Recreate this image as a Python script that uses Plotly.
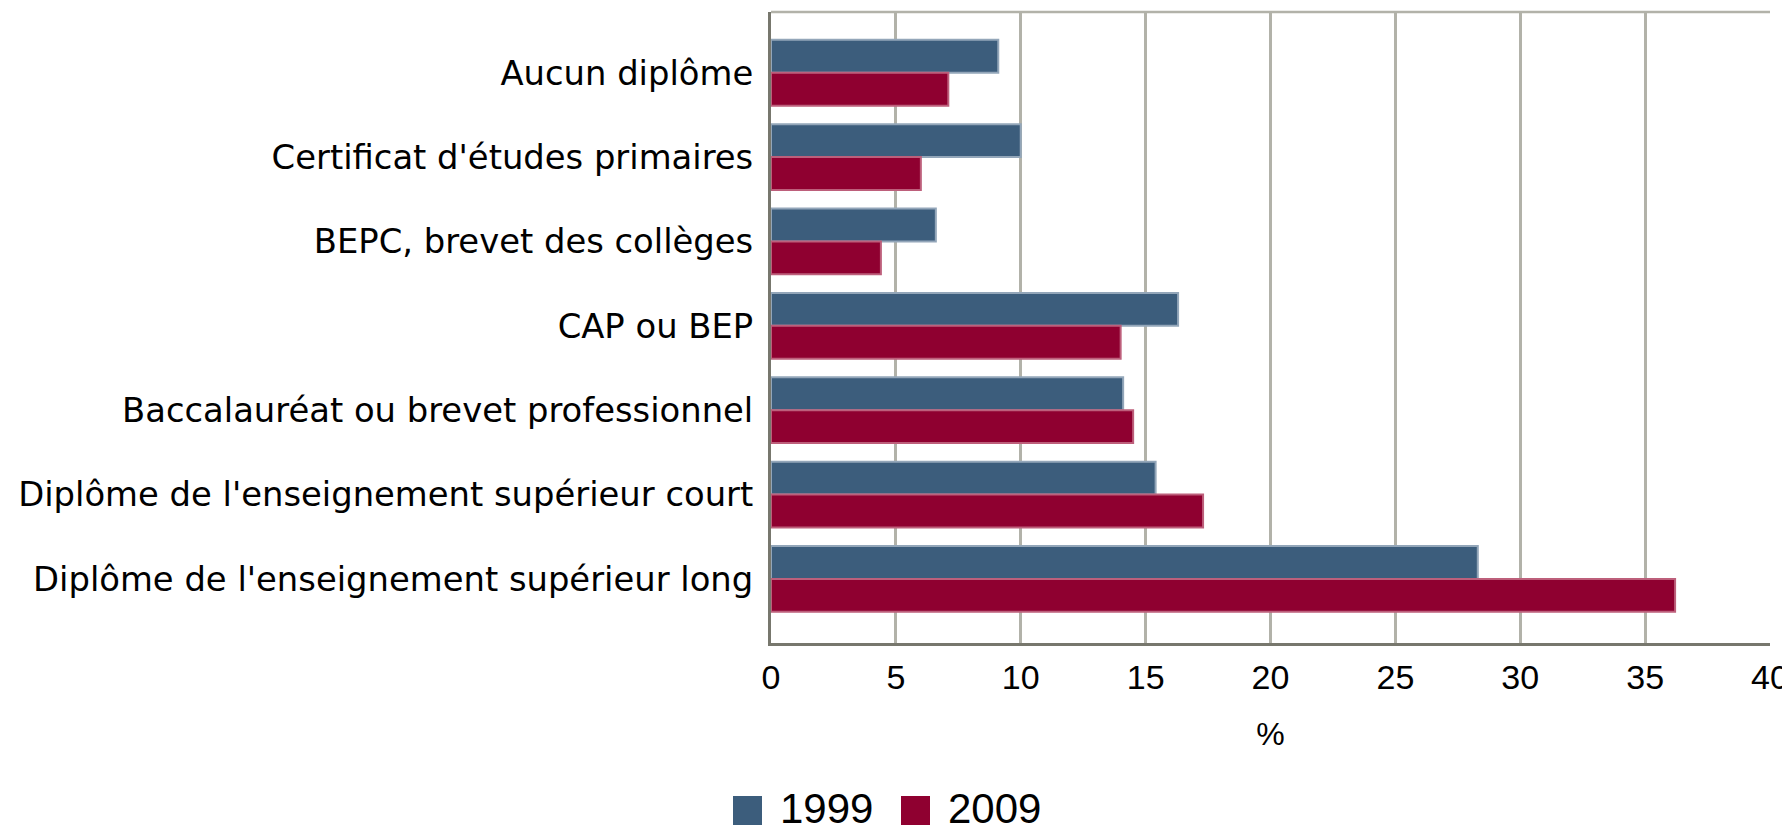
import plotly.graph_objects as go

# diplôme le plus élevé, part en %
categories = [
    "Aucun diplôme",
    "Certificat d'études primaires",
    "BEPC, brevet des collèges",
    "CAP ou BEP",
    "Baccalauréat ou brevet professionnel",
    "Diplôme de l'enseignement supérieur court",
    "Diplôme de l'enseignement supérieur long",
]
years = ["1999", "2009"]
values_1999 = [9.1, 10.0, 6.6, 16.3, 14.1, 15.4, 28.3]
values_2009 = [7.1, 6.0, 4.4, 14.0, 14.5, 17.3, 36.2]

colors = ["#3c5d7c", "#8f0030"]
edge_colors = ["#93a6b9", "#bd5f7b"]

# the page body has an 8px margin, so the figure is drawn 8px in from the corner
OFF = 8
W, H = 1790 - OFF, 832 - OFF
ml, mt = 771 - OFF, 12 - OFF
mr = 20
mb = H - (643 - OFF)
pw, ph = W - ml - mr, H - mt - mb

fig = go.Figure()
for name, vals, col, edge in zip(years, [values_1999, values_2009], colors, edge_colors):
    fig.add_trace(go.Bar(
        y=categories, x=vals, name=name, orientation="h",
        marker=dict(color=col, line=dict(color=edge, width=2)),
        showlegend=False,
    ))

fig.update_layout(
    width=W, height=H,
    margin=dict(l=ml, r=mr, t=mt, b=mb, autoexpand=False),
    paper_bgcolor="white", plot_bgcolor="white",
    barmode="group", bargap=0.22, bargroupgap=0,
    font=dict(family="Liberation Sans, Arial, sans-serif", color="black"),
)

fig.update_xaxes(
    range=[0, 40], dtick=5, tick0=0,
    showgrid=True, gridcolor="#b2b2a9", gridwidth=2.5,
    zeroline=False, automargin=False,
    showline=True, linecolor="#77776d", linewidth=3,
    ticks="", ticklabelstandoff=2,
    tickfont=dict(size=34, family="Liberation Sans, Arial, sans-serif"),
    title=dict(text="%", font=dict(size=32), standoff=28),
)
fig.update_yaxes(
    type="category",
    range=[6.76, -0.72],
    showgrid=False, zeroline=False, automargin=False,
    showline=True, linecolor="#77776d", linewidth=3,
    ticks="", ticklabelstandoff=8,
    tickfont=dict(size=33.8, family="DejaVu Sans, sans-serif"),
)

# light top border of the plot frame
fig.add_shape(type="line", xref="paper", yref="paper", x0=0, x1=1, y0=1, y1=1,
              line=dict(color="#b2b2a9", width=2.5))


def px_x(p):
    return (p - OFF - ml) / pw


def px_y(p):
    return (mt + ph - (p - OFF)) / ph


# legend below the axis: squares + labels (page pixel positions)
sq = 29
legend_x = [733, 901]
sq_top = 796
for name, col, lx in zip(years, colors, legend_x):
    fig.add_shape(type="rect", xref="paper", yref="paper",
                  x0=px_x(lx), x1=px_x(lx + sq), y0=px_y(sq_top + sq), y1=px_y(sq_top),
                  fillcolor=col, line=dict(width=0))
    fig.add_annotation(text=name, xref="paper", yref="paper",
                       x=px_x(lx + sq + 16), y=px_y(sq_top + sq / 2 - 2),
                       xanchor="left", yanchor="middle", showarrow=False,
                       font=dict(size=42, family="Liberation Sans, Arial, sans-serif"))

fig.write_html("out.html")
